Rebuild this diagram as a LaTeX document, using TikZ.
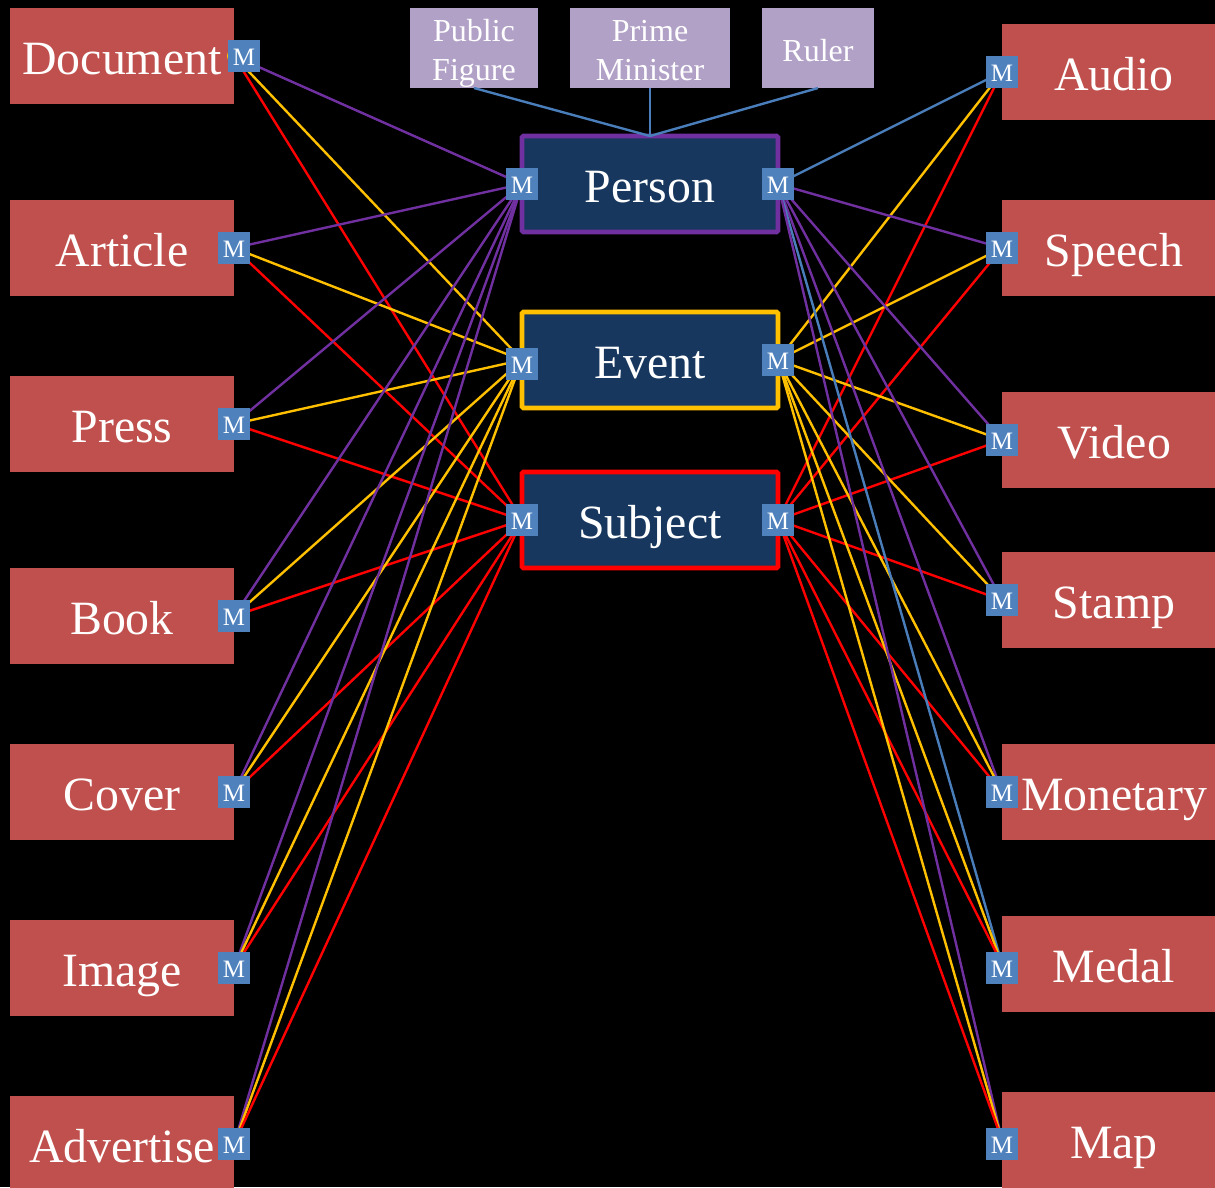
\documentclass[tikz,border=0pt]{standalone}
\usepackage{fontspec}
\setmainfont{Liberation Serif}
\definecolor{redbox}{HTML}{C0504D}
\definecolor{navybox}{HTML}{17375E}
\definecolor{lilacbox}{HTML}{B2A1C7}
\definecolor{bluebox}{HTML}{4F81BD}
\definecolor{bluelink}{HTML}{4A7EBB}
\definecolor{purplelink}{HTML}{7030A0}
\definecolor{goldlink}{HTML}{FFC000}
\definecolor{redlink}{HTML}{FF0000}
\begin{document}
\begin{tikzpicture}[x=1pt, y=-1pt]
  \tikzstyle{entity}=[fill=redbox, text=white, minimum width=224pt, minimum height=96pt, inner sep=0pt, outer sep=0pt, text height=36pt, text depth=0pt, font=\fontsize{47.8}{57}\selectfont]
  \tikzstyle{concept}=[fill=navybox, text=white, line width=4.7pt, rounded corners=1.5pt, minimum width=256pt, minimum height=96pt, inner sep=0pt, outer sep=0pt, text height=37pt, text depth=0pt, font=\fontsize{47.8}{57}\selectfont]
  \tikzstyle{subclass}=[fill=lilacbox, text=white, minimum height=80pt, inner sep=0pt, outer sep=0pt, align=center, text height=64.4pt, text depth=0pt, font=\fontsize{32}{38.4}\selectfont]
  \tikzstyle{multi}=[fill=bluebox, text=white, minimum size=32pt, inner sep=0pt, outer sep=0pt, text height=18pt, text depth=0pt, font=\fontsize{25}{28}\selectfont]
  \tikzstyle{link}=[line width=2.4pt]
  \tikzstyle{plink}=[link, purplelink]
  \tikzstyle{glink}=[link, goldlink]
  \tikzstyle{rlink}=[link, redlink]
  \tikzstyle{blink}=[link, bluelink]

\clip (0, 0) rectangle (1215, 1187);
\fill[black] (0, 0) rectangle (1215, 1187);

\node[entity] (document) at (122, 56) {Document};
\node[entity] (article) at (122, 248) {Article};
\node[entity] (press) at (122, 424) {Press};
\node[entity] (book) at (122, 616) {Book};
\node[entity] (cover) at (122, 792) {Cover};
\node[entity] (image) at (122, 968) {Image};
\node[entity] (advertise) at (122, 1144) {Advertise};

\node[entity] (audio) at (1114, 72) {Audio};
\node[entity] (speech) at (1114, 248) {Speech};
\node[entity] (video) at (1114, 440) {Video};
\node[entity] (stamp) at (1114, 600) {Stamp};
\node[entity] (monetary) at (1114, 792) {Monetary};
\node[entity] (medal) at (1114, 964) {Medal};
\node[entity] (map) at (1114, 1140) {Map};

\node[concept, draw=purplelink] (person) at (650, 184) {Person};
\node[concept, draw=goldlink] (event) at (650, 360) {Event};
\node[concept, draw=redlink] (subject) at (650, 520) {Subject};

\node[subclass, minimum width=128pt] (figure) at (474, 48) {Public\\Figure};
\node[subclass, minimum width=160pt] (minister) at (650, 48) {Prime\\Minister};
\node[subclass, minimum width=112pt, text height=26pt] (ruler) at (818, 48) {Ruler};

\node[circle, fill=goldlink, minimum size=14pt, inner sep=0pt] (dot) at (234, 56) {};

\draw[blink] (figure.south) -- (person.north);
\draw[blink] (minister.south) -- (person.north);
\draw[blink] (ruler.south) -- (person.north);

\draw[plink] (document.east) -- (person.west);
\draw[glink] (document.east) -- (event.west);
\draw[rlink] (document.east) -- (subject.west);

\draw[plink] (article.east) -- (person.west);
\draw[glink] (article.east) -- (event.west);
\draw[rlink] (article.east) -- (subject.west);

\draw[plink] (press.east) -- (person.west);
\draw[glink] (press.east) -- (event.west);
\draw[rlink] (press.east) -- (subject.west);

\draw[plink] (book.east) -- (person.west);
\draw[glink] (book.east) -- (event.west);
\draw[rlink] (book.east) -- (subject.west);

\draw[plink] (cover.east) -- (person.west);
\draw[glink] (cover.east) -- (event.west);
\draw[rlink] (cover.east) -- (subject.west);

\draw[plink] (image.east) -- (person.west);
\draw[glink] (image.east) -- (event.west);
\draw[rlink] (image.east) -- (subject.west);

\draw[plink] (advertise.east) -- (person.west);
\draw[glink] (advertise.east) -- (event.west);
\draw[rlink] (advertise.east) -- (subject.west);

\draw[blink] (person.east) -- (audio.west);
\draw[glink] (event.east) -- (audio.west);
\draw[rlink] (subject.east) -- (audio.west);

\draw[plink] (person.east) -- (speech.west);
\draw[glink] (event.east) -- (speech.west);
\draw[rlink] (subject.east) -- (speech.west);

\draw[plink] (person.east) -- (video.west);
\draw[glink] (event.east) -- (video.west);
\draw[rlink] (subject.east) -- (video.west);

\draw[plink] (person.east) -- (stamp.west);
\draw[glink] (event.east) -- (stamp.west);
\draw[rlink] (subject.east) -- (stamp.west);

\draw[plink] (person.east) -- (monetary.west);
\draw[glink] (event.east) -- (monetary.west);
\draw[rlink] (subject.east) -- (monetary.west);

\draw[blink] (person.east) -- (medal.west);
\draw[glink] (event.east) -- (medal.west);
\draw[rlink] (subject.east) -- (medal.west);

\draw[plink] (person.east) -- (map.west);
\draw[glink] (event.east) -- (map.west);
\draw[rlink] (subject.east) -- (map.west);

\node[multi] (m1) at (244, 56) {M};
\node[multi] (m2) at (234, 248) {M};
\node[multi] (m3) at (234, 424) {M};
\node[multi] (m4) at (234, 616) {M};
\node[multi] (m5) at (234, 792) {M};
\node[multi] (m6) at (234, 968) {M};
\node[multi] (m7) at (234, 1144) {M};

\node[multi] (m8) at (522, 184) {M};
\node[multi] (m9) at (522, 364) {M};
\node[multi] (m10) at (522, 520) {M};
\node[multi] (m11) at (778, 184) {M};
\node[multi] (m12) at (778, 360) {M};
\node[multi] (m13) at (778, 520) {M};

\node[multi] (m14) at (1002, 72) {M};
\node[multi] (m15) at (1002, 248) {M};
\node[multi] (m16) at (1002, 440) {M};
\node[multi] (m17) at (1002, 600) {M};
\node[multi] (m18) at (1002, 792) {M};
\node[multi] (m19) at (1002, 968) {M};
\node[multi] (m20) at (1002, 1144) {M};

\end{tikzpicture}
\end{document}
